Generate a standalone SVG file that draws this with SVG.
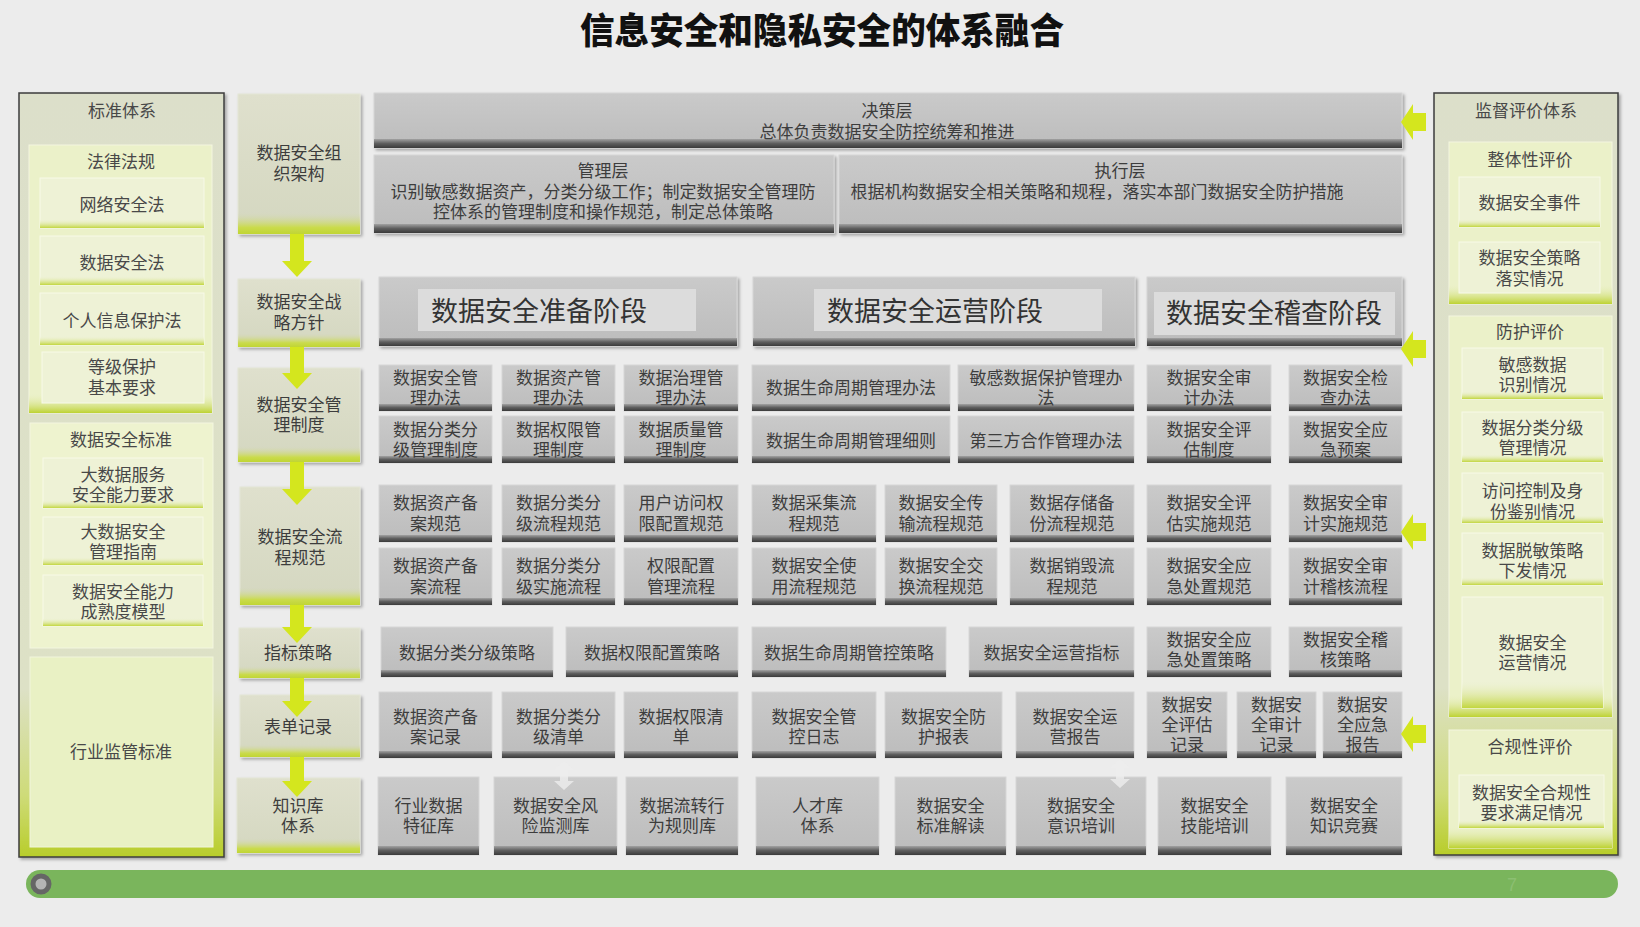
<svg xmlns="http://www.w3.org/2000/svg" width="1640" height="927" viewBox="0 0 1640 927">
<defs>
<style>
.t{font-family:"Liberation Sans","Noto Sans CJK SC",sans-serif;font-size:17px;fill:#3d3d3d;text-anchor:middle}
.lt{fill:#484848}
.ph{font-size:27px;text-anchor:start;fill:#333}
.title{font-size:36px;font-weight:900;fill:#111}
.gb{fill:url(#gGray);stroke:#d6d6d6;stroke-width:1}
.bar{fill:url(#gBar)}
.inner{fill:#dcdcdc}
.fb{fill:url(#gFlow);stroke:#e4e6d6;stroke-width:1}
.fband{fill:url(#gFlowBand)}
.grp{fill:#ebf1c9;stroke:#f3f6df;stroke-width:1}
.gband{fill:url(#gBand)}
.sb{fill:#eef2d6;stroke:#f7f9e8;stroke-width:1}
.sband{fill:url(#gSubBand)}
.arr{fill:#d4e61e}
.darr{fill:#eeeeee;opacity:0.8}
</style>
<linearGradient id="gGray" x1="0" y1="0" x2="0" y2="1"><stop offset="0" stop-color="#cacaca"/><stop offset="1" stop-color="#bcbcbc"/></linearGradient>
<linearGradient id="gBar" x1="0" y1="0" x2="0" y2="1"><stop offset="0" stop-color="#a2a2a2"/><stop offset="0.5" stop-color="#5e5e5e"/><stop offset="1" stop-color="#3a3a3a"/></linearGradient>
<linearGradient id="gPanel" x1="0" y1="0" x2="0" y2="1"><stop offset="0" stop-color="#dcdfca"/><stop offset="0.78" stop-color="#dde1c6"/><stop offset="0.92" stop-color="#cedb78"/><stop offset="1" stop-color="#b8cd2a"/></linearGradient>
<linearGradient id="gFlow" x1="0" y1="0" x2="0" y2="1"><stop offset="0" stop-color="#dfe0cd"/><stop offset="1" stop-color="#d4d7c0"/></linearGradient>
<linearGradient id="gFlowBand" x1="0" y1="0" x2="0" y2="1"><stop offset="0" stop-color="#d4d7c0" stop-opacity="0"/><stop offset="0.7" stop-color="#cadb4c"/><stop offset="1" stop-color="#c0d534"/></linearGradient>
<linearGradient id="gBand" x1="0" y1="0" x2="0" y2="1"><stop offset="0" stop-color="#ebf1c9" stop-opacity="0"/><stop offset="1" stop-color="#bdd232"/></linearGradient>
<linearGradient id="gSubBand" x1="0" y1="0" x2="0" y2="1"><stop offset="0" stop-color="#eef2d6" stop-opacity="0"/><stop offset="1" stop-color="#c2d63e"/></linearGradient>
<filter id="sh" x="-10%" y="-10%" width="130%" height="130%"><feDropShadow dx="2" dy="2" stdDeviation="1.5" flood-color="#000" flood-opacity="0.3"/></filter>
</defs>

<rect x="0" y="0" width="1640" height="927" fill="#ececec"/>

<text id="title" class="t title" x="822" y="44" textLength="484" lengthAdjust="spacingAndGlyphs">信息安全和隐私安全的体系融合</text>

<!-- Left panel: 标准体系 -->
<g id="std">
<rect x="19" y="93" width="205" height="764" fill="url(#gPanel)" stroke="#3c3c3c" stroke-width="1.5" filter="url(#sh)"/>
<text class="t lt" x="122" y="117">标准体系</text>
<g id="law">
<rect class="grp" x="29" y="145" width="183" height="268"/>
<rect class="gband" x="29" y="393" width="183" height="20"/>
<text class="t lt" x="121" y="168">法律法规</text>
<g id="law1"><rect class="sb" x="40" y="178" width="164" height="50"/><rect class="sband" x="40" y="219" width="164" height="9"/><text class="t lt" x="122" y="211">网络安全法</text></g>
<g id="law2"><rect class="sb" x="40" y="236" width="164" height="49"/><rect class="sband" x="40" y="276" width="164" height="9"/><text class="t lt" x="122" y="269">数据安全法</text></g>
<g id="law3"><rect class="sb" x="40" y="293" width="164" height="52"/><rect class="sband" x="40" y="336" width="164" height="9"/><text class="t lt" x="122" y="327">个人信息保护法</text></g>
<g id="law4"><rect class="sb" x="42" y="352" width="162" height="51"/><text class="t lt" x="122" y="373">等级保护<tspan x="122" dy="21">基本要求</tspan></text></g>
</g>
<g id="dsstd">
<rect class="grp" x="30" y="423" width="183" height="225" style="fill:#eef3cf"/>
<text class="t lt" x="121" y="446">数据安全标准</text>
<g id="ds1"><rect class="sb" x="43" y="458" width="160" height="50"/><rect class="sband" x="43" y="500" width="160" height="8"/><text class="t lt" x="123" y="481">大数据服务<tspan x="123" dy="20">安全能力要求</tspan></text></g>
<g id="ds2"><rect class="sb" x="43" y="517" width="160" height="48"/><rect class="sband" x="43" y="557" width="160" height="8"/><text class="t lt" x="123" y="538">大数据安全<tspan x="123" dy="20">管理指南</tspan></text></g>
<g id="ds3"><rect class="sb" x="43" y="575" width="160" height="51"/><rect class="sband" x="43" y="618" width="160" height="8"/><text class="t lt" x="123" y="598">数据安全能力<tspan x="123" dy="20">成熟度模型</tspan></text></g>
</g>
<g id="industry">
<rect x="30" y="657" width="183" height="190" fill="#e9f1c4" stroke="#f1f5db" stroke-width="1"/>
<text class="t lt" x="121" y="758">行业监管标准</text>
</g>
</g>

<!-- Left flow column -->
<g id="f1"><rect class="fb" x="238" y="94" width="122" height="140" filter="url(#sh)"/><rect class="fband" x="238" y="212" width="122" height="22"/><text class="t" x="299" y="159">数据安全组<tspan x="299" dy="21">织架构</tspan></text></g>
<g id="f2"><rect class="fb" x="238" y="279" width="122" height="68" filter="url(#sh)"/><rect class="fband" x="238" y="333" width="122" height="14"/><text class="t" x="299" y="308">数据安全战<tspan x="299" dy="21">略方针</tspan></text></g>
<g id="f3"><rect class="fb" x="238" y="368" width="122" height="94" filter="url(#sh)"/><rect class="fband" x="238" y="446" width="122" height="16"/><text class="t" x="299" y="411">数据安全管<tspan x="299" dy="20">理制度</tspan></text></g>
<g id="f4"><rect class="fb" x="240" y="487" width="120" height="118" filter="url(#sh)"/><rect class="fband" x="240" y="587" width="120" height="18"/><text class="t" x="300" y="543">数据安全流<tspan x="300" dy="21">程规范</tspan></text></g>
<g id="f5"><rect class="fb" x="239" y="628" width="121" height="50" filter="url(#sh)"/><rect class="fband" x="239" y="666" width="121" height="12"/><text class="t" x="298" y="659">指标策略</text></g>
<g id="f6"><rect class="fb" x="240" y="695" width="120" height="62" filter="url(#sh)"/><rect class="fband" x="240" y="744" width="120" height="13"/><text class="t" x="298" y="733">表单记录</text></g>
<g id="f7"><rect class="fb" x="237" y="778" width="123" height="75" filter="url(#sh)"/><rect class="fband" x="237" y="838" width="123" height="15"/><text class="t" x="298" y="812">知识库<tspan x="298" dy="20">体系</tspan></text></g>

<!-- Top layers -->
<g id="decision"><rect class="gb" x="374" y="93" width="1028" height="55" filter="url(#sh)"/><rect class="bar" x="374" y="139" width="1028" height="9"/><text class="t" x="887" y="117">决策层</text><text class="t" x="887" y="138">总体负责数据安全防控统筹和推进</text></g>
<g id="mgmt"><rect class="gb" x="374" y="155" width="460" height="78" filter="url(#sh)"/><rect class="bar" x="374" y="224" width="460" height="9"/><text class="t" x="603" y="177">管理层</text><text class="t" x="603" y="198">识别敏感数据资产，分类分级工作；制定数据安全管理防</text><text class="t" x="603" y="218">控体系的管理制度和操作规范，制定总体策略</text></g>
<g id="exec"><rect class="gb" x="839" y="155" width="563" height="78" filter="url(#sh)"/><rect class="bar" x="839" y="224" width="563" height="9"/><text class="t" x="1120" y="177">执行层</text><text class="t" x="1097" y="198">根据机构数据安全相关策略和规程，落实本部门数据安全防护措施</text></g>

<!-- Phase headers -->
<g id="phase1"><rect class="gb" x="379" y="277" width="358" height="69" filter="url(#sh)"/><rect class="bar" x="379" y="338" width="358" height="8"/><rect class="inner" x="418" y="289" width="278" height="42"/><text class="t ph" x="431" y="321">数据安全准备阶段</text></g>
<g id="phase2"><rect class="gb" x="753" y="277" width="382" height="69" filter="url(#sh)"/><rect class="bar" x="753" y="338" width="382" height="8"/><rect class="inner" x="814" y="289" width="288" height="42"/><text class="t ph" x="827" y="321">数据安全运营阶段</text></g>
<g id="phase3"><rect class="gb" x="1147" y="277" width="255" height="69" filter="url(#sh)"/><rect class="bar" x="1147" y="338" width="255" height="8"/><rect class="inner" x="1154" y="292" width="241" height="43"/><text class="t ph" x="1166" y="323">数据安全稽查阶段</text></g>

<!-- Row A -->
<g id="a1"><rect class="gb" x="379" y="365" width="113" height="46"/><rect class="bar" x="379" y="404" width="113" height="7"/><text class="t" x="435.5" y="384">数据安全管<tspan x="435.5" dy="20">理办法</tspan></text></g>
<g id="a2"><rect class="gb" x="502" y="365" width="113" height="46"/><rect class="bar" x="502" y="404" width="113" height="7"/><text class="t" x="558.5" y="384">数据资产管<tspan x="558.5" dy="20">理办法</tspan></text></g>
<g id="a3"><rect class="gb" x="624" y="365" width="114" height="46"/><rect class="bar" x="624" y="404" width="114" height="7"/><text class="t" x="681" y="384">数据治理管<tspan x="681" dy="20">理办法</tspan></text></g>
<g id="a4"><rect class="gb" x="752" y="365" width="198" height="46"/><rect class="bar" x="752" y="404" width="198" height="7"/><text class="t" x="851" y="394">数据生命周期管理办法</text></g>
<g id="a5"><rect class="gb" x="958" y="365" width="176" height="46"/><rect class="bar" x="958" y="404" width="176" height="7"/><text class="t" x="1046" y="384">敏感数据保护管理办<tspan x="1046" dy="20">法</tspan></text></g>
<g id="a6"><rect class="gb" x="1147" y="365" width="124" height="46"/><rect class="bar" x="1147" y="404" width="124" height="7"/><text class="t" x="1209" y="384">数据安全审<tspan x="1209" dy="20">计办法</tspan></text></g>
<g id="a7"><rect class="gb" x="1289" y="365" width="113" height="46"/><rect class="bar" x="1289" y="404" width="113" height="7"/><text class="t" x="1345.5" y="384">数据安全检<tspan x="1345.5" dy="20">查办法</tspan></text></g>

<!-- Row B -->
<g id="b1"><rect class="gb" x="379" y="416" width="113" height="47"/><rect class="bar" x="379" y="456" width="113" height="7"/><text class="t" x="435.5" y="436">数据分类分<tspan x="435.5" dy="20">级管理制度</tspan></text></g>
<g id="b2"><rect class="gb" x="502" y="416" width="113" height="47"/><rect class="bar" x="502" y="456" width="113" height="7"/><text class="t" x="558.5" y="436">数据权限管<tspan x="558.5" dy="20">理制度</tspan></text></g>
<g id="b3"><rect class="gb" x="624" y="416" width="114" height="47"/><rect class="bar" x="624" y="456" width="114" height="7"/><text class="t" x="681" y="436">数据质量管<tspan x="681" dy="20">理制度</tspan></text></g>
<g id="b4"><rect class="gb" x="752" y="416" width="198" height="47"/><rect class="bar" x="752" y="456" width="198" height="7"/><text class="t" x="851" y="447">数据生命周期管理细则</text></g>
<g id="b5"><rect class="gb" x="958" y="416" width="176" height="47"/><rect class="bar" x="958" y="456" width="176" height="7"/><text class="t" x="1046" y="447">第三方合作管理办法</text></g>
<g id="b6"><rect class="gb" x="1147" y="416" width="124" height="47"/><rect class="bar" x="1147" y="456" width="124" height="7"/><text class="t" x="1209" y="436">数据安全评<tspan x="1209" dy="20">估制度</tspan></text></g>
<g id="b7"><rect class="gb" x="1289" y="416" width="113" height="47"/><rect class="bar" x="1289" y="456" width="113" height="7"/><text class="t" x="1345.5" y="436">数据安全应<tspan x="1345.5" dy="20">急预案</tspan></text></g>

<!-- Row C -->
<g id="c1"><rect class="gb" x="379" y="485" width="113" height="57"/><rect class="bar" x="379" y="535" width="113" height="7"/><text class="t" x="435.5" y="509">数据资产备<tspan x="435.5" dy="21">案规范</tspan></text></g>
<g id="c2"><rect class="gb" x="502" y="485" width="113" height="57"/><rect class="bar" x="502" y="535" width="113" height="7"/><text class="t" x="558.5" y="509">数据分类分<tspan x="558.5" dy="21">级流程规范</tspan></text></g>
<g id="c3"><rect class="gb" x="624" y="485" width="114" height="57"/><rect class="bar" x="624" y="535" width="114" height="7"/><text class="t" x="681" y="509">用户访问权<tspan x="681" dy="21">限配置规范</tspan></text></g>
<g id="c4"><rect class="gb" x="752" y="485" width="124" height="57"/><rect class="bar" x="752" y="535" width="124" height="7"/><text class="t" x="814" y="509">数据采集流<tspan x="814" dy="21">程规范</tspan></text></g>
<g id="c5"><rect class="gb" x="885" y="485" width="112" height="57"/><rect class="bar" x="885" y="535" width="112" height="7"/><text class="t" x="941" y="509">数据安全传<tspan x="941" dy="21">输流程规范</tspan></text></g>
<g id="c6"><rect class="gb" x="1010" y="485" width="124" height="57"/><rect class="bar" x="1010" y="535" width="124" height="7"/><text class="t" x="1072" y="509">数据存储备<tspan x="1072" dy="21">份流程规范</tspan></text></g>
<g id="c7"><rect class="gb" x="1147" y="485" width="124" height="57"/><rect class="bar" x="1147" y="535" width="124" height="7"/><text class="t" x="1209" y="509">数据安全评<tspan x="1209" dy="21">估实施规范</tspan></text></g>
<g id="c8"><rect class="gb" x="1289" y="485" width="113" height="57"/><rect class="bar" x="1289" y="535" width="113" height="7"/><text class="t" x="1345.5" y="509">数据安全审<tspan x="1345.5" dy="21">计实施规范</tspan></text></g>

<!-- Row D -->
<g id="d1"><rect class="gb" x="379" y="548" width="113" height="57"/><rect class="bar" x="379" y="598" width="113" height="7"/><text class="t" x="435.5" y="572">数据资产备<tspan x="435.5" dy="21">案流程</tspan></text></g>
<g id="d2"><rect class="gb" x="502" y="548" width="113" height="57"/><rect class="bar" x="502" y="598" width="113" height="7"/><text class="t" x="558.5" y="572">数据分类分<tspan x="558.5" dy="21">级实施流程</tspan></text></g>
<g id="d3"><rect class="gb" x="624" y="548" width="114" height="57"/><rect class="bar" x="624" y="598" width="114" height="7"/><text class="t" x="681" y="572">权限配置<tspan x="681" dy="21">管理流程</tspan></text></g>
<g id="d4"><rect class="gb" x="752" y="548" width="124" height="57"/><rect class="bar" x="752" y="598" width="124" height="7"/><text class="t" x="814" y="572">数据安全使<tspan x="814" dy="21">用流程规范</tspan></text></g>
<g id="d5"><rect class="gb" x="885" y="548" width="112" height="57"/><rect class="bar" x="885" y="598" width="112" height="7"/><text class="t" x="941" y="572">数据安全交<tspan x="941" dy="21">换流程规范</tspan></text></g>
<g id="d6"><rect class="gb" x="1010" y="548" width="124" height="57"/><rect class="bar" x="1010" y="598" width="124" height="7"/><text class="t" x="1072" y="572">数据销毁流<tspan x="1072" dy="21">程规范</tspan></text></g>
<g id="d7"><rect class="gb" x="1147" y="548" width="124" height="57"/><rect class="bar" x="1147" y="598" width="124" height="7"/><text class="t" x="1209" y="572">数据安全应<tspan x="1209" dy="21">急处置规范</tspan></text></g>
<g id="d8"><rect class="gb" x="1289" y="548" width="113" height="57"/><rect class="bar" x="1289" y="598" width="113" height="7"/><text class="t" x="1345.5" y="572">数据安全审<tspan x="1345.5" dy="21">计稽核流程</tspan></text></g>

<!-- Row E -->
<g id="e1"><rect class="gb" x="381" y="627" width="172" height="50"/><rect class="bar" x="381" y="670" width="172" height="7"/><text class="t" x="467" y="659">数据分类分级策略</text></g>
<g id="e2"><rect class="gb" x="566" y="627" width="172" height="50"/><rect class="bar" x="566" y="670" width="172" height="7"/><text class="t" x="652" y="659">数据权限配置策略</text></g>
<g id="e3"><rect class="gb" x="752" y="627" width="194" height="50"/><rect class="bar" x="752" y="670" width="194" height="7"/><text class="t" x="849" y="659">数据生命周期管控策略</text></g>
<g id="e4"><rect class="gb" x="969" y="627" width="165" height="50"/><rect class="bar" x="969" y="670" width="165" height="7"/><text class="t" x="1051.5" y="659">数据安全运营指标</text></g>
<g id="e5"><rect class="gb" x="1147" y="627" width="124" height="50"/><rect class="bar" x="1147" y="670" width="124" height="7"/><text class="t" x="1209" y="646">数据安全应<tspan x="1209" dy="20">急处置策略</tspan></text></g>
<g id="e6"><rect class="gb" x="1289" y="627" width="113" height="50"/><rect class="bar" x="1289" y="670" width="113" height="7"/><text class="t" x="1345.5" y="646">数据安全稽<tspan x="1345.5" dy="20">核策略</tspan></text></g>

<!-- Row F -->
<g id="g1"><rect class="gb" x="379" y="692" width="113" height="66"/><rect class="bar" x="379" y="751" width="113" height="7"/><text class="t" x="435.5" y="723">数据资产备<tspan x="435.5" dy="20">案记录</tspan></text></g>
<g id="g2"><rect class="gb" x="502" y="692" width="113" height="66"/><rect class="bar" x="502" y="751" width="113" height="7"/><text class="t" x="558.5" y="723">数据分类分<tspan x="558.5" dy="20">级清单</tspan></text></g>
<g id="g3"><rect class="gb" x="624" y="692" width="114" height="66"/><rect class="bar" x="624" y="751" width="114" height="7"/><text class="t" x="681" y="723">数据权限清<tspan x="681" dy="20">单</tspan></text></g>
<g id="g4"><rect class="gb" x="752" y="692" width="124" height="66"/><rect class="bar" x="752" y="751" width="124" height="7"/><text class="t" x="814" y="723">数据安全管<tspan x="814" dy="20">控日志</tspan></text></g>
<g id="g5"><rect class="gb" x="885" y="692" width="117" height="66"/><rect class="bar" x="885" y="751" width="117" height="7"/><text class="t" x="943.5" y="723">数据安全防<tspan x="943.5" dy="20">护报表</tspan></text></g>
<g id="g6"><rect class="gb" x="1016" y="692" width="118" height="66"/><rect class="bar" x="1016" y="751" width="118" height="7"/><text class="t" x="1075" y="723">数据安全运<tspan x="1075" dy="20">营报告</tspan></text></g>
<g id="g7"><rect class="gb" x="1147" y="692" width="80" height="66"/><rect class="bar" x="1147" y="751" width="80" height="7"/><text class="t" x="1187" y="711">数据安<tspan x="1187" dy="20">全评估</tspan><tspan x="1187" dy="20">记录</tspan></text></g>
<g id="g8"><rect class="gb" x="1237" y="692" width="79" height="66"/><rect class="bar" x="1237" y="751" width="79" height="7"/><text class="t" x="1276.5" y="711">数据安<tspan x="1276.5" dy="20">全审计</tspan><tspan x="1276.5" dy="20">记录</tspan></text></g>
<g id="g9"><rect class="gb" x="1323" y="692" width="79" height="66"/><rect class="bar" x="1323" y="751" width="79" height="7"/><text class="t" x="1362.5" y="711">数据安<tspan x="1362.5" dy="20">全应急</tspan><tspan x="1362.5" dy="20">报告</tspan></text></g>

<!-- Row G -->
<g id="h1"><rect class="gb" x="378" y="777" width="101" height="78"/><rect class="bar" x="378" y="846" width="101" height="9"/><text class="t" x="428.5" y="812">行业数据<tspan x="428.5" dy="20">特征库</tspan></text></g>
<g id="h2"><rect class="gb" x="494" y="777" width="123" height="78"/><rect class="bar" x="494" y="846" width="123" height="9"/><text class="t" x="555.5" y="812">数据安全风<tspan x="555.5" dy="20">险监测库</tspan></text></g>
<g id="h3"><rect class="gb" x="626" y="777" width="112" height="78"/><rect class="bar" x="626" y="846" width="112" height="9"/><text class="t" x="682" y="812">数据流转行<tspan x="682" dy="20">为规则库</tspan></text></g>
<g id="h4"><rect class="gb" x="756" y="777" width="123" height="78"/><rect class="bar" x="756" y="846" width="123" height="9"/><text class="t" x="817.5" y="812">人才库<tspan x="817.5" dy="20">体系</tspan></text></g>
<g id="h5"><rect class="gb" x="895" y="777" width="111" height="78"/><rect class="bar" x="895" y="846" width="111" height="9"/><text class="t" x="950.5" y="812">数据安全<tspan x="950.5" dy="20">标准解读</tspan></text></g>
<g id="h6"><rect class="gb" x="1016" y="777" width="130" height="78"/><rect class="bar" x="1016" y="846" width="130" height="9"/><text class="t" x="1081" y="812">数据安全<tspan x="1081" dy="20">意识培训</tspan></text></g>
<g id="h7"><rect class="gb" x="1158" y="777" width="113" height="78"/><rect class="bar" x="1158" y="846" width="113" height="9"/><text class="t" x="1214.5" y="812">数据安全<tspan x="1214.5" dy="20">技能培训</tspan></text></g>
<g id="h8"><rect class="gb" x="1286" y="777" width="116" height="78"/><rect class="bar" x="1286" y="846" width="116" height="9"/><text class="t" x="1344" y="812">数据安全<tspan x="1344" dy="20">知识竞赛</tspan></text></g>

<!-- Right panel: 监督评价体系 -->
<g id="eval">
<rect x="1434" y="93" width="184" height="762" fill="url(#gPanel)" stroke="#3c3c3c" stroke-width="1.5" filter="url(#sh)"/>
<text class="t lt" x="1526" y="117">监督评价体系</text>
<g id="overall">
<rect class="grp" x="1449" y="142" width="163" height="162"/>
<rect class="gband" x="1449" y="284" width="163" height="20"/>
<text class="t lt" x="1530" y="166">整体性评价</text>
<g id="ov1"><rect class="sb" x="1459" y="177" width="141" height="50"/><rect class="sband" x="1459" y="219" width="141" height="8"/><text class="t lt" x="1529.5" y="209">数据安全事件</text></g>
<g id="ov2"><rect class="sb" x="1459" y="242" width="141" height="51"/><text class="t lt" x="1529.5" y="264">数据安全策略<tspan x="1529.5" dy="21">落实情况</tspan></text></g>
</g>
<g id="protect">
<rect class="grp" x="1449" y="316" width="163" height="401"/>
<rect class="gband" x="1449" y="694" width="163" height="23"/>
<text class="t lt" x="1530" y="338">防护评价</text>
<g id="pr1"><rect class="sb" x="1462" y="348" width="141" height="51"/><rect class="sband" x="1462" y="391" width="141" height="8"/><text class="t lt" x="1532.5" y="371">敏感数据<tspan x="1532.5" dy="20">识别情况</tspan></text></g>
<g id="pr2"><rect class="sb" x="1462" y="412" width="141" height="50"/><rect class="sband" x="1462" y="454" width="141" height="8"/><text class="t lt" x="1532.5" y="434">数据分类分级<tspan x="1532.5" dy="20">管理情况</tspan></text></g>
<g id="pr3"><rect class="sb" x="1462" y="473" width="141" height="50"/><rect class="sband" x="1462" y="515" width="141" height="8"/><text class="t lt" x="1532.5" y="497">访问控制及身<tspan x="1532.5" dy="21">份鉴别情况</tspan></text></g>
<g id="pr4"><rect class="sb" x="1462" y="533" width="141" height="52"/><rect class="sband" x="1462" y="577" width="141" height="8"/><text class="t lt" x="1532.5" y="557">数据脱敏策略<tspan x="1532.5" dy="20">下发情况</tspan></text></g>
<g id="pr5"><rect class="sb" x="1462" y="597" width="141" height="111"/><rect class="sband" x="1462" y="680" width="141" height="28"/><text class="t lt" x="1532.5" y="649">数据安全<tspan x="1532.5" dy="20">运营情况</tspan></text></g>
</g>
<g id="compliance">
<rect class="grp" x="1449" y="730" width="163" height="118"/>
<rect class="gband" x="1449" y="826" width="163" height="22"/>
<text class="t lt" x="1530" y="753">合规性评价</text>
<g id="co1"><rect class="sb" x="1459" y="775" width="145" height="53"/><rect class="sband" x="1459" y="820" width="145" height="8"/><text class="t lt" x="1531.5" y="799">数据安全合规性<tspan x="1531.5" dy="20">要求满足情况</tspan></text></g>
</g>
</g>

<!-- Bottom bar -->
<g id="footer">
<rect x="26" y="870" width="1592" height="28" rx="14" fill="#7ab55c"/>
<circle cx="41" cy="884" r="8" fill="#b4b4b4" stroke="#666" stroke-width="5"/>
<text class="t" x="1512" y="891" style="fill:#8cbf72;font-size:18px">7</text>
</g>

<!-- Connectors -->
<g id="connectors">
<polygon class="arr" points="290,234 304,234 304,261 312,261 297,277 282,261 290,261"/>
<polygon class="arr" points="290,347 304,347 304,373 312,373 297,389 282,373 290,373"/>
<polygon class="arr" points="290,462 304,462 304,489 312,489 297,505 282,489 290,489"/>
<polygon class="arr" points="290,605 304,605 304,627 312,627 297,643 282,627 290,627"/>
<polygon class="arr" points="290,678 304,678 304,701 312,701 297,717 282,701 290,701"/>
<polygon class="arr" points="290,757 304,757 304,781 312,781 297,797 282,781 290,781"/>
<polygon class="arr" points="1401,122 1413,104 1413,113 1426,113 1426,131 1413,131 1413,140"/>
<polygon class="arr" points="1401,349 1413,331 1413,340 1426,340 1426,358 1413,358 1413,367"/>
<polygon class="arr" points="1401,532 1413,514 1413,523 1426,523 1426,541 1413,541 1413,550"/>
<polygon class="arr" points="1401,734 1413,716 1413,725 1426,725 1426,743 1413,743 1413,752"/>
<polygon class="darr" points="564,761 574,770 568,770 568,781 574,781 564,790 554,781 560,781 560,770 554,770"/>
<polygon class="darr" points="1120,759 1130,768 1124,768 1124,779 1130,779 1120,788 1110,779 1116,779 1116,768 1110,768"/>
</g>
</svg>
